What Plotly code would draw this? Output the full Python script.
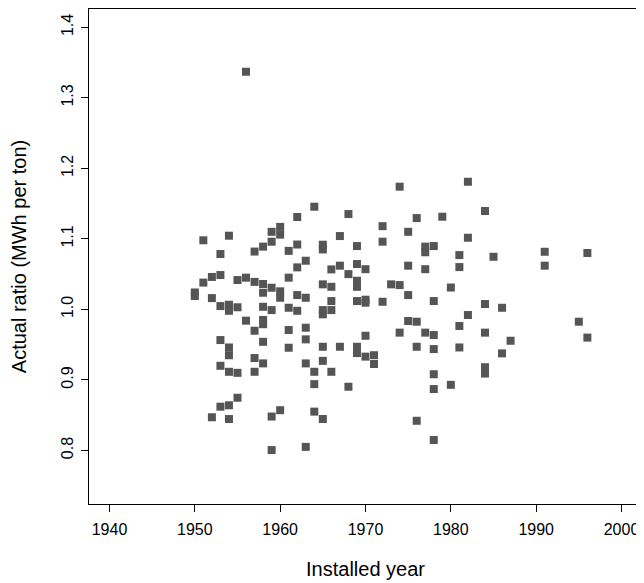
import plotly.graph_objects as go

installed_year = (
    [1950]*2 + [1951]*2 + [1952]*3 + [1953]*6 + [1954]*8 + [1955]*4 + [1956]*3 +
    [1957]*5 + [1958]*8 + [1959]*6 + [1960]*5 + [1961]*5 + [1962]*5 + [1963]*6 +
    [1964]*4 + [1965]*8 + [1966]*5 + [1967]*3 + [1968]*3 + [1969]*7 + [1970]*5 +
    [1971]*2 + [1972]*3 + [1973]*1 + [1974]*3 + [1975]*4 + [1976]*4 + [1977]*4 +
    [1978]*7 + [1979]*1 + [1980]*2 + [1981]*4 + [1982]*3 + [1984]*5 + [1985]*1 +
    [1986]*2 + [1987]*1 + [1991]*2 + [1995]*1 + [1996]*2
)

actual_ratio = [
    1.024, 1.019,
    1.098, 1.038,
    1.046, 1.016, 0.847,
    1.0785, 1.0487, 1.0047, 0.9565, 0.920, 0.862,
    1.1045, 1.0066, 0.998, 0.946, 0.935, 0.9115, 0.864, 0.8445,
    1.0416, 1.003, 0.910, 0.8747,
    1.337, 1.045, 0.984,
    1.082, 1.039, 0.9697, 0.931, 0.9115,
    1.089, 1.036, 1.0236, 1.0037, 0.985, 0.979, 0.954, 0.9234,
    1.110, 1.096, 1.0307, 0.999, 0.848, 0.8005,
    1.117, 1.106, 1.0256, 1.0165, 0.857,
    1.083, 1.045, 1.0023, 0.9707, 0.9456,
    1.131, 1.092, 1.0596, 1.0203, 0.998,
    1.069, 1.0165, 0.974, 0.9575, 0.9234, 0.805,
    1.1456, 0.9115, 0.894, 0.855,
    1.0917, 1.085, 1.0355, 0.999, 0.993, 0.947, 0.927, 0.8445,
    1.0567, 1.032, 1.0118, 0.999, 0.9115,
    1.104, 1.062, 0.947,
    1.1352, 1.050, 0.8903,
    1.0898, 1.0643, 1.0406, 1.032, 1.0118, 0.947, 0.938,
    1.057, 1.0137, 1.0095, 0.9626, 0.933,
    0.935, 0.9225,
    1.118, 1.096, 1.0108,
    1.0355,
    1.174, 1.0345, 0.967,
    1.110, 1.062, 1.0203, 0.9835,
    1.1295, 0.9825, 0.947, 0.842,
    1.089, 1.081, 1.057, 0.967,
    1.0898, 1.0118, 0.9636, 0.9437, 0.908, 0.887, 0.8147,
    1.1314,
    1.031, 0.893,
    1.077, 1.060, 0.9764, 0.946,
    1.181, 1.1016, 0.992,
    1.1395, 1.0076, 0.967, 0.918, 0.909,
    1.0746,
    1.0023, 0.9376,
    0.9555,
    1.0817, 1.062,
    0.9825,
    1.080, 0.960,
]

x_ticks = [1940, 1950, 1960, 1970, 1980, 1990, 2000]
y_ticks = [0.8, 0.9, 1.0, 1.1, 1.2, 1.3, 1.4]
y_tick_labels = ["0.8", "0.9", "1.0", "1.1", "1.2", "1.3", "1.4"]

fig = go.Figure()
fig.add_trace(go.Scatter(
    x=installed_year, y=actual_ratio, mode="markers",
    marker=dict(symbol="square", size=8, color="#555555", line=dict(width=0)),
    showlegend=False, hoverinfo="x+y",
))

font = dict(family="Liberation Sans, Arial, sans-serif", size=16, color="#000000")

# page body adds an 8px offset, so the figure is sized to the visible area
fig.update_layout(
    width=636, height=575,
    margin=dict(l=81, r=2, t=1, b=79),
    paper_bgcolor="white", plot_bgcolor="white",
    font=font,
    xaxis=dict(
        range=[1937.6, 2002.4], tickvals=x_ticks, ticktext=[str(v) for v in x_ticks],
        showgrid=False, zeroline=False, showline=True, linecolor="black", linewidth=1,
        mirror=True, ticks="outside", ticklen=7, tickcolor="black", tickwidth=1,
        automargin=False, ticklabelstandoff=4,
        title=dict(text="Installed year", standoff=24, font=dict(size=20)),
        tickfont=dict(size=16),
    ),
    yaxis=dict(
        range=[0.724, 1.426], tickvals=y_ticks, ticktext=y_tick_labels,
        showgrid=False, zeroline=False, showline=True, linecolor="black", linewidth=1,
        mirror=True, ticks="outside", ticklen=7, tickcolor="black", tickwidth=1,
        tickangle=-90, automargin=False, ticklabelstandoff=2,
        title=dict(text="Actual ratio (MWh per ton)", standoff=26, font=dict(size=20)),
        tickfont=dict(size=16),
    ),
)

fig.write_html("out.html")
